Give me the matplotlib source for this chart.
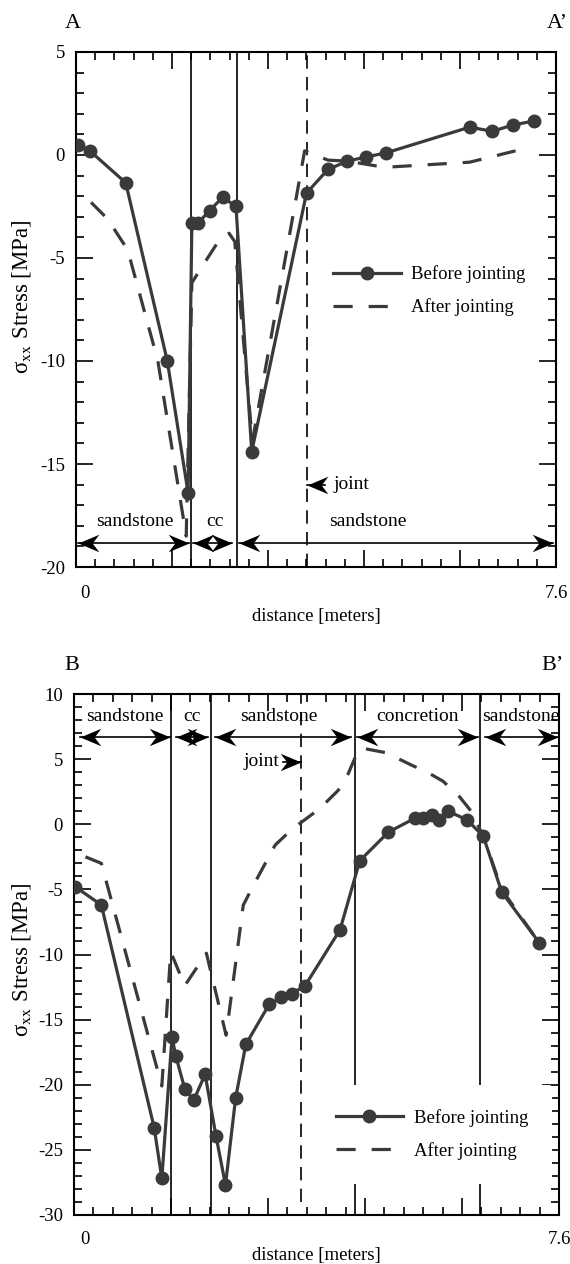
import numpy as np
import matplotlib
matplotlib.use('Agg')
import matplotlib.pyplot as plt
from matplotlib.path import Path
from matplotlib.ticker import MultipleLocator, NullFormatter

plt.rcParams['font.family'] = ['Liberation Serif', 'DejaVu Serif']
plt.rcParams['mathtext.fontset'] = 'stix'
plt.rcParams['axes.unicode_minus'] = False

FT = 0.3048  # one foot, the x ticks are in feet (25 ft = 7.62 m)

# ---- profile A-A' ----
a_before_x = [0.03, 0.22, 0.79, 1.45, 1.78, 1.84, 1.94, 2.12, 2.33, 2.54, 2.79,
              3.66, 4.00, 4.31, 4.60, 4.92, 6.25, 6.61, 6.93, 7.27]
a_before_y = [0.5, 0.2, -1.35, -10.0, -16.4, -3.3, -3.3, -2.7, -2.05, -2.5, -14.4,
              -1.85, -0.7, -0.3, -0.1, 0.1, 1.35, 1.15, 1.45, 1.65]
a_after_x = [0.24, 0.50, 0.82, 1.30, 1.75, 1.84, 2.09, 2.28, 2.43, 2.52, 2.80,
             3.63, 4.00, 4.31, 4.90, 6.25, 7.07]
a_after_y = [-2.3, -3.1, -4.6, -10.0, -18.5, -6.2, -5.0, -4.1, -3.8, -4.2, -13.9,
             0.2, -0.25, -0.3, -0.6, -0.35, 0.27]
a_bounds = [1.82, 2.56]
a_joint = 3.67
a_unit_names = ['sandstone', 'cc', 'sandstone']
a_unit_left = [0.03, 1.85, 2.59]
a_unit_right = [1.80, 2.48, 7.58]
a_unit_label_x = [0.94, 2.21, 4.64]

# ---- profile B-B' ----
b_before_x = [0.02, 0.43, 1.26, 1.38, 1.54, 1.60, 1.74, 1.88, 2.06, 2.23, 2.38,
              2.54, 2.70, 3.07, 3.26, 3.42, 3.63, 4.18, 4.49, 4.94, 5.35, 5.48,
              5.62, 5.73, 5.88, 6.17, 6.43, 6.72, 7.31]
b_before_y = [-4.8, -6.2, -23.3, -27.2, -16.35, -17.8, -20.3, -21.2, -19.2, -23.9, -27.7,
              -21.0, -16.9, -13.8, -13.3, -13.0, -12.4, -8.1, -2.8, -0.6, 0.45, 0.45,
              0.7, 0.3, 1.0, 0.35, -0.9, -5.2, -9.1]
b_after_x = [0.18, 0.43, 1.38, 1.52, 1.74, 2.08, 2.39, 2.66, 2.84, 3.16, 3.42, 3.86,
             4.15, 4.31, 4.45, 4.52, 4.90, 5.30, 5.55, 5.80, 6.06, 6.24, 6.43, 6.72, 7.28]
b_after_y = [-2.5, -3.0, -20.1, -9.8, -12.4, -9.9, -16.2, -6.2, -4.5, -1.6, -0.4, 1.2,
             2.6, 3.9, 5.5, 5.85, 5.5, 4.55, 4.0, 3.3, 2.1, 1.0, -0.9, -5.0, -8.9]
b_bounds = [1.52, 2.15, 4.42, 6.38]
b_joint = 3.56
b_unit_names = ['sandstone', 'cc', 'sandstone', 'concretion', 'sandstone']
b_unit_left = [0.09, 1.61, 2.21, 4.44, 6.45]
b_unit_right = [1.51, 2.11, 4.35, 6.35, 7.60]
b_unit_label_x = [0.80, 1.85, 3.22, 5.39, 7.02]

CURVE = '#3a3a3a'
FS = 13.5
HEAD = 30

# barbed arrow heads, tip at the origin
right_head = Path([(0, 0), (-1, 0.42), (-0.68, 0), (-1, -0.42), (0, 0)],
                  [Path.MOVETO, Path.LINETO, Path.LINETO, Path.LINETO, Path.CLOSEPOLY])
left_head = Path([(0, 0), (1, 0.42), (0.68, 0), (1, -0.42), (0, 0)],
                 [Path.MOVETO, Path.LINETO, Path.LINETO, Path.LINETO, Path.CLOSEPOLY])


def span_arrow(ax, x0, x1, y):
    ax.plot([x0, x1], [y, y], color='black', lw=1.2, zorder=4)
    ax.plot([x0], [y], marker=left_head, ms=HEAD, color='black', mew=0, zorder=4)
    ax.plot([x1], [y], marker=right_head, ms=HEAD, color='black', mew=0, zorder=4)


def style_axes(ax, ylo, yhi):
    ax.set_xlim(0, 25 * FT)
    ax.set_ylim(ylo, yhi)
    ax.xaxis.set_major_locator(MultipleLocator(5 * FT))
    ax.xaxis.set_minor_locator(MultipleLocator(FT))
    ax.xaxis.set_major_formatter(NullFormatter())
    ax.yaxis.set_major_locator(MultipleLocator(5))
    ax.yaxis.set_minor_locator(MultipleLocator(1))
    ax.tick_params(which='both', direction='in', top=True, right=True,
                   labelsize=FS, pad=8, width=1.2)
    ax.tick_params(which='major', length=12)
    ax.tick_params(which='minor', length=6)
    for s in ax.spines.values():
        s.set_linewidth(1.5)
    ax.set_ylabel('\u03c3$_{\\mathrm{xx}}$ Stress [MPa]', fontsize=16.5)


def draw_curves(ax, bx, by, axx, ay):
    ax.plot(bx, by, color=CURVE, lw=2.3, marker='o', ms=9, zorder=5,
            label='Before jointing')
    ax.plot(axx, ay, color=CURVE, lw=2.3, dashes=(6, 5), zorder=5,
            label='After jointing')


fig = plt.figure(figsize=(5.7, 12.64), dpi=100)

# ---------- top panel ----------
ax1 = fig.add_axes([0.1333, 0.5514, 0.8421, 0.4075])
style_axes(ax1, -20, 5)
for b in a_bounds:
    ax1.axvline(b, color='black', lw=1.2, zorder=3)
ax1.axvline(a_joint, color='black', lw=1.2, dashes=(8, 5), zorder=3)
draw_curves(ax1, a_before_x, a_before_y, a_after_x, a_after_y)
for name, l, r, lx in zip(a_unit_names, a_unit_left, a_unit_right, a_unit_label_x):
    span_arrow(ax1, l, r, -18.85)
    ax1.text(lx, -17.8, name, fontsize=14, ha='center', va='center')
ax1.plot([a_joint, a_joint + 0.28], [-16.0, -16.0], color='black', lw=1.2, zorder=4)
ax1.plot([a_joint], [-16.0], marker=left_head, ms=HEAD, color='black', mew=0, zorder=4)
ax1.text(a_joint + 0.42, -16.0, 'joint', fontsize=14, ha='left', va='center')
ax1.legend(loc='center left', bbox_to_anchor=(0.47, 0.536), fontsize=FS,
           frameon=True, facecolor='white', edgecolor='none', framealpha=1,
           handlelength=3.6, handletextpad=0.55, labelspacing=0.8,
           borderpad=1.2, numpoints=1)
ax1.text(0.019, -0.052, '0', transform=ax1.transAxes, fontsize=FS,
         ha='center', va='center')
ax1.text(1.0, -0.052, '7.6', transform=ax1.transAxes, fontsize=FS,
         ha='center', va='center')
ax1.text(0.5, -0.097, 'distance [meters]', transform=ax1.transAxes, fontsize=FS,
         ha='center', va='center')
ax1.yaxis.set_label_coords(-0.09, 0.524)

# ---------- bottom panel ----------
ax2 = fig.add_axes([0.1298, 0.0388, 0.8509, 0.4121])
style_axes(ax2, -30, 10)
for b in b_bounds:
    ax2.axvline(b, color='black', lw=1.2, zorder=3)
ax2.vlines(b_joint, -29, 10, color='black', lw=1.2, linestyles=(0, (8, 5)), zorder=3)
draw_curves(ax2, b_before_x, b_before_y, b_after_x, b_after_y)
for name, l, r, lx in zip(b_unit_names, b_unit_left, b_unit_right, b_unit_label_x):
    span_arrow(ax2, l, r, 6.72)
    ax2.text(lx, 8.25, name, fontsize=14, ha='center', va='center')
ax2.plot([b_joint - 0.28, b_joint], [4.8, 4.8], color='black', lw=1.2, zorder=4)
ax2.plot([b_joint], [4.8], marker=right_head, ms=HEAD, color='black', mew=0, zorder=4)
ax2.text(b_joint - 0.34, 4.8, 'joint', fontsize=14, ha='right', va='center')
leg = ax2.legend(loc='center left', bbox_to_anchor=(0.47, 0.1545), fontsize=FS,
                 frameon=True, facecolor='white', edgecolor='none', framealpha=1,
                 handlelength=3.6, handletextpad=0.55, labelspacing=0.8,
                 borderpad=1.3, numpoints=1)
leg.set_zorder(6)
ax2.text(0.023, -0.048, '0', transform=ax2.transAxes, fontsize=FS,
         ha='center', va='center')
ax2.text(1.0, -0.048, '7.6', transform=ax2.transAxes, fontsize=FS,
         ha='center', va='center')
ax2.text(0.5, -0.078, 'distance [meters]', transform=ax2.transAxes, fontsize=FS,
         ha='center', va='center')
ax2.yaxis.set_label_coords(-0.085, 0.49)

# panel letters
fig.text(73 / 570, 1 - 23 / 1264, 'A', fontsize=16, ha='center', va='center')
fig.text(557 / 570, 1 - 23 / 1264, 'A\u2019', fontsize=16, ha='center', va='center')
fig.text(72 / 570, 1 - 665 / 1264, 'B', fontsize=16, ha='center', va='center')
fig.text(553 / 570, 1 - 665 / 1264, 'B\u2019', fontsize=16, ha='center', va='center')

fig.savefig('out.png', dpi=100)
